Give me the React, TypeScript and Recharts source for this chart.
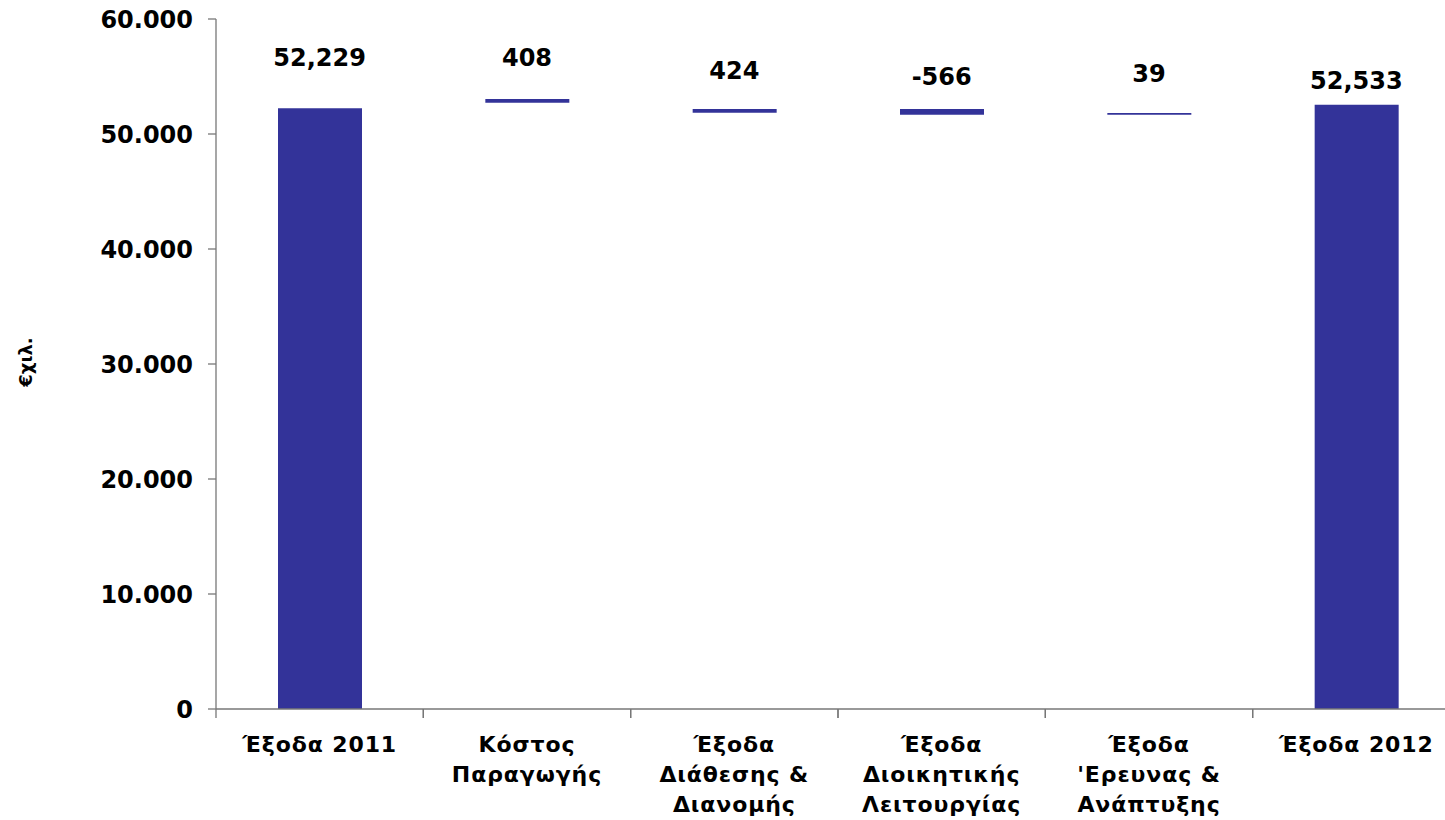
import React from "react";
import { ComposedChart, Bar, Line, XAxis, YAxis, LabelList } from "recharts";

const categories = [
  "Έξοδα 2011",
  "Κόστος\nΠαραγωγής",
  "Έξοδα\nΔιάθεσης &\nΔιανομής",
  "Έξοδα\nΔιοικητικής\nΛειτουργίας",
  "Έξοδα\n'Ερευνας &\nΑνάπτυξης",
  "Έξοδα 2012",
];
const barLow = [0, 52720, 51850, 51680, 51680, 0];
const barHigh = [52229, 53040, 52170, 52170, 51830, 52533];
const labelTexts = ["52,229", "408", "424", "-566", "39", "52,533"];
const labelPos = [56720, 56720, 55560, 55040, 55280, 54720];
const yTicks = [0, 10000, 20000, 30000, 40000, 50000, 60000];

const data = categories.map((c, i) => ({
  name: c,
  range: [barLow[i], barHigh[i]],
  labelPos: labelPos[i],
  label: labelTexts[i],
}));

const FONT = "'DejaVu Sans', Verdana, sans-serif";
const CHART_W = 1461;
const LEFT = 216;
const RIGHT = 1;
const BAND = (CHART_W - LEFT - RIGHT) / categories.length;

const fmtY = (v: number) => (v === 0 ? "0" : `${Math.round(v / 1000)}.000`);

const XTick = (props: any) => {
  const { x, y, payload } = props;
  const lines = String(payload.value).split("\n");
  const left = x - BAND / 2;
  return (
    <g>
      <line x1={left} y1={y} x2={left} y2={y + 9} stroke="#777" strokeWidth={1.3} />
      <line x1={x + BAND / 2} y1={y} x2={x + BAND / 2} y2={y + 9} stroke="#777" strokeWidth={1.3} />
      {lines.map((l, i) => (
        <text
          key={i}
          x={x}
          y={y + 43 + i * 30}
          textAnchor="middle"
          fontFamily={FONT}
          fontWeight="bold"
          fontSize={22}
          letterSpacing={0.9}
          fill="#000"
        >
          {l}
        </text>
      ))}
    </g>
  );
};

const YLabel = (props: any) => {
  const vb = props.viewBox || {};
  const cy = (vb.y ?? 19) + (vb.height ?? 690) / 2 - 2;
  return (
    <text
      x={25}
      y={cy}
      transform={`rotate(-90, 25, ${cy})`}
      textAnchor="middle"
      dominantBaseline="central"
      fontFamily={FONT}
      fontWeight="bold"
      fontSize={18}
      fill="#000"
    >
      €χιλ.
    </text>
  );
};

const ValueLabel = (props: any) => {
  const { x, y, value } = props;
  return (
    <text
      x={x}
      y={y + 9}
      textAnchor="middle"
      fontFamily={FONT}
      fontWeight="bold"
      fontSize={24}
      fill="#000"
    >
      {value}
    </text>
  );
};

export default function App() {
  return (
    <div
      style={{
        position: "fixed",
        left: 0,
        top: 0,
        width: 1445,
        height: 820,
        overflow: "hidden",
        background: "#fff",
      }}
    >
      <ComposedChart
        width={CHART_W}
        height={820}
        data={data}
        margin={{ top: 19, right: RIGHT, bottom: 0, left: 0 }}
      >
        <XAxis
          dataKey="name"
          interval={0}
          height={111}
          tickLine={false}
          tickSize={0}
          tickMargin={0}
          axisLine={{ stroke: "#777", strokeWidth: 1.3 }}
          tick={<XTick />}
        />
        <YAxis
          width={LEFT}
          domain={[0, 60000]}
          ticks={yTicks}
          tickFormatter={fmtY}
          tickSize={8}
          tickMargin={15}
          axisLine={{ stroke: "#777", strokeWidth: 1.3 }}
          tickLine={{ stroke: "#777", strokeWidth: 1.3 }}
          tick={{ fontFamily: FONT, fontWeight: "bold", fontSize: 24, fill: "#000" }}
          label={<YLabel />}
        />
        <Bar dataKey="range" fill="#333399" barSize={84} isAnimationActive={false} />
        <Line
          dataKey="labelPos"
          stroke="none"
          dot={false}
          activeDot={false}
          isAnimationActive={false}
        >
          <LabelList dataKey="label" content={<ValueLabel />} />
        </Line>
      </ComposedChart>
    </div>
  );
}
